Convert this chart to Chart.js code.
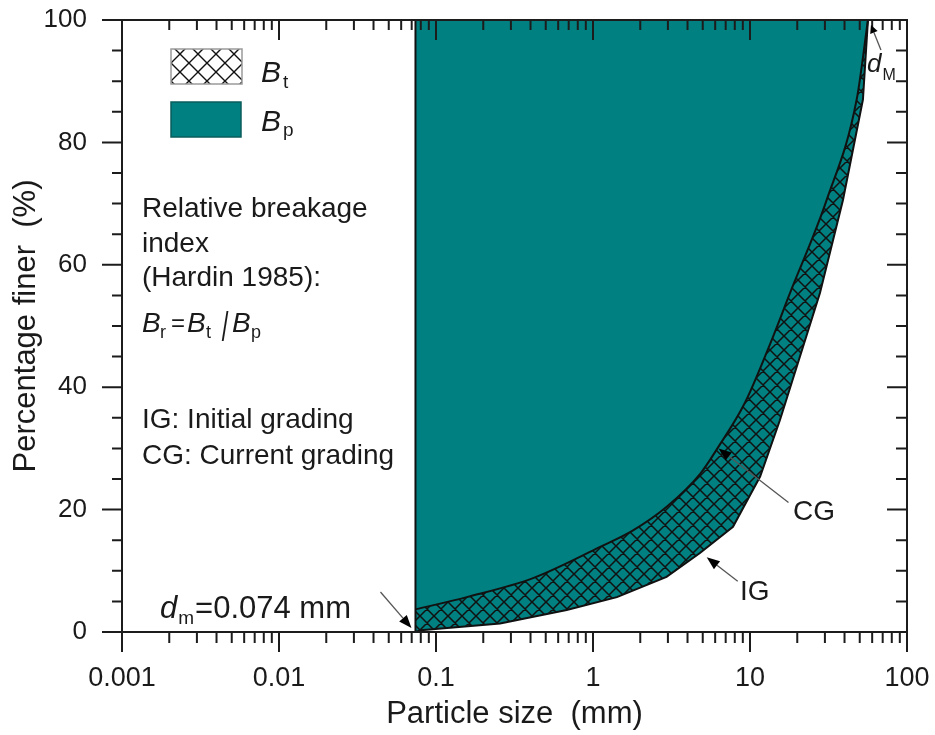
<!DOCTYPE html>
<html><head><meta charset="utf-8">
<script src="https://cdn.jsdelivr.net/npm/chart.js@4/dist/chart.umd.min.js"></script>
<style>html,body{margin:0;padding:0;background:#fff;}#wrap{width:935px;height:735px;position:relative;}</style>
</head><body><div id="wrap"><canvas id="c" width="935" height="735"></canvas></div>
<script>
// ---- data ----
const xTickValues = [0.001, 0.01, 0.1, 1, 10, 100];
const xTickLabels = ['0.001', '0.01', '0.1', '1', '10', '100'];
const xMinorMultipliers = [2, 3, 4, 5, 6, 7, 8, 9];
const yTickValues = [0, 20, 40, 60, 80, 100];
const yTickLabels = ['0', '20', '40', '60', '80', '100'];
const yMinorValues = [5, 10, 15, 25, 30, 35, 45, 50, 55, 65, 70, 75, 85, 90, 95];

// Current grading (CG)
const cgSize  = [0.074, 0.157, 0.415, 1.11, 1.80, 2.96, 4.80, 6.2, 9.3, 13.4, 18.0, 30.8, 47.8, 56.4];
const cgFiner = [3.7,   5.7,   8.8,   13.9, 16.6, 20.5, 25.8, 30.0, 37.5, 47.0, 55.4, 70.6, 87.0, 100];
// Initial grading (IG)
const igSize  = [0.074, 0.08, 0.256, 0.68, 1.42, 2.94, 4.80, 7.79, 11.6, 15.5, 27.9, 39.1, 52.4, 56.4];
const igFiner = [0,     0.3,  1.4,   3.6,  5.7,  9.0,  12.9, 17.2, 25.4, 34.6, 55.4, 70.6, 87.0, 100];
// lower limit d_m = 0.074 mm
const dmSize  = [0.074, 0.074];
const dmFiner = [0, 100];

// annotation anchors (data units) for arrows
const cgArrowAt = [6.3, 30.0];
const igArrowAt = [5.3, 12.2];

const TEAL = '#008080';
const FONT = '"Liberation Sans", Arial, Helvetica, sans-serif';
const INK = '#1a1a1a';

const canvas = document.getElementById('c');
const mainCtx = canvas.getContext('2d');
function makeHatch(period, lw, bg) {
  const t = document.createElement('canvas');
  t.width = period; t.height = period;
  const g = t.getContext('2d');
  if (bg) { g.fillStyle = bg; g.fillRect(0, 0, period, period); }
  g.strokeStyle = '#111'; g.lineWidth = lw;
  g.beginPath();
  for (const k of [-period, 0, period]) {
    g.moveTo(k, 0); g.lineTo(k + period, period);
    g.moveTo(k + period, 0); g.lineTo(k, period);
  }
  g.stroke();
  return mainCtx.createPattern(t, 'repeat');
}
const hatch = makeHatch(14, 1.5, null);
const legendHatch = makeHatch(18, 1.4, '#ffffff');

function pts(xs, ys) { return xs.map((v, i) => ({x: v, y: ys[i]})); }

function text(ctx, s, x, y, size, italic) {
  ctx.font = (italic ? 'italic ' : '') + size + 'px ' + FONT;
  ctx.fillStyle = INK;
  ctx.textAlign = 'left';
  ctx.textBaseline = 'alphabetic';
  ctx.fillText(s, x, y);
  return x + ctx.measureText(s).width;
}
function arrow(ctx, tipX, tipY, tailX, tailY, headLen, headW) {
  const dx = tipX - tailX, dy = tipY - tailY;
  const L = Math.hypot(dx, dy), ux = dx / L, uy = dy / L;
  const bx = tipX - ux * headLen, by = tipY - uy * headLen;
  ctx.strokeStyle = '#555'; ctx.lineWidth = 1.3;
  ctx.beginPath(); ctx.moveTo(tailX, tailY); ctx.lineTo(bx, by); ctx.stroke();
  ctx.fillStyle = '#000';
  ctx.beginPath();
  ctx.moveTo(tipX, tipY);
  ctx.lineTo(bx - uy * headW, by + ux * headW);
  ctx.lineTo(bx + uy * headW, by - ux * headW);
  ctx.closePath(); ctx.fill();
}

const overlay = {
  id: 'overlay',
  afterDraw(chart) {
    const {ctx, chartArea: a, scales: {x, y}} = chart;
    ctx.save();
    // frame + ticks
    ctx.strokeStyle = '#1c1c1c'; ctx.lineWidth = 2; ctx.lineCap = 'butt';
    ctx.strokeRect(a.left, a.top, a.right - a.left, a.bottom - a.top);
    ctx.beginPath();
    xTickValues.forEach((d, i) => {
      const p = x.getPixelForValue(d);
      ctx.moveTo(p, a.bottom); ctx.lineTo(p, a.bottom + 20);
      ctx.moveTo(p, a.top); ctx.lineTo(p, a.top + 20);
      if (i < xTickValues.length - 1) {
        xMinorMultipliers.forEach(m => {
          const q = x.getPixelForValue(d * m);
          ctx.moveTo(q, a.bottom); ctx.lineTo(q, a.bottom + 11);
          ctx.moveTo(q, a.top); ctx.lineTo(q, a.top + 10);
        });
      }
    });
    yTickValues.forEach(v => {
      const p = y.getPixelForValue(v);
      ctx.moveTo(a.left - 20, p); ctx.lineTo(a.left, p);
      ctx.moveTo(a.right - 20, p); ctx.lineTo(a.right, p);
    });
    yMinorValues.forEach(v => {
      const p = y.getPixelForValue(v);
      ctx.moveTo(a.left - 10, p); ctx.lineTo(a.left, p);
      ctx.moveTo(a.right - 11, p); ctx.lineTo(a.right, p);
    });
    ctx.stroke();

    // legend
    ctx.fillStyle = '#fff'; ctx.fillRect(171, 49, 71, 35);
    ctx.fillStyle = legendHatch; ctx.fillRect(171, 49, 71, 35);
    ctx.strokeStyle = '#9a9a9a'; ctx.lineWidth = 1.5; ctx.strokeRect(171, 49, 71, 35);
    ctx.fillStyle = TEAL; ctx.fillRect(171, 102, 70, 35);
    ctx.strokeStyle = '#0b5c5c'; ctx.lineWidth = 1.5; ctx.strokeRect(171, 102, 70, 35);
    text(ctx, 'B', 261, 82, 30, true); text(ctx, 't', 283, 88, 19, false);
    text(ctx, 'B', 261, 131, 30, true); text(ctx, 'p', 283, 136, 19, false);

    // annotations
    text(ctx, 'Relative breakage', 142, 217, 28, false);
    text(ctx, 'index', 142, 252, 28, false);
    text(ctx, '(Hardin 1985):', 142, 286, 28, false);
    text(ctx, 'B', 142, 332, 28, true); text(ctx, 'r', 160, 338, 18, false);
    text(ctx, '=', 171, 331, 24, false);
    text(ctx, 'B', 187, 332, 28, true); text(ctx, 't', 206, 338, 18, false);
    ctx.save(); ctx.fillStyle = INK; ctx.font = '40px ' + FONT;
    ctx.translate(225, 341); ctx.scale(0.6, 1); ctx.textAlign = 'center'; ctx.textBaseline = 'alphabetic';
    ctx.fillText('/', 0, 0); ctx.restore();
    text(ctx, 'B', 232, 332, 28, true); text(ctx, 'p', 251, 338, 18, false);
    text(ctx, 'IG: Initial grading', 142, 428, 28, false);
    text(ctx, 'CG: Current grading', 142, 464, 28, false);

    // d_m label and arrow
    let cx = text(ctx, 'd', 160, 618, 31, true);
    cx = text(ctx, 'm', cx + 1, 624, 19, false);
    text(ctx, '=0.074 mm', cx + 1, 618, 31, false);
    const dmx = x.getPixelForValue(dmSize[0]), dmy = y.getPixelForValue(dmFiner[0]);
    arrow(ctx, dmx - 4, dmy - 4, dmx - 35, dmy - 40, 13, 5);

    // d_M label and arrow
    const dMx = x.getPixelForValue(cgSize[cgSize.length - 1]), dMy = y.getPixelForValue(100);
    arrow(ctx, dMx + 3, dMy + 5, dMx + 13, dMy + 30, 8, 4);
    const ex = text(ctx, 'd', 867, 72, 26, true);
    text(ctx, 'M', ex + 1, 80, 16, false);

    // CG arrow + label
    const cgx = x.getPixelForValue(cgArrowAt[0]), cgy = y.getPixelForValue(cgArrowAt[1]);
    arrow(ctx, cgx, cgy, cgx + 70, cgy + 54, 13, 5);
    text(ctx, 'CG', 793, 520, 28, false);
    // IG arrow + label
    const igx = x.getPixelForValue(igArrowAt[0]), igy = y.getPixelForValue(igArrowAt[1]);
    arrow(ctx, igx, igy, igx + 31, igy + 24, 13, 5);
    text(ctx, 'IG', 740, 600, 28, false);
    ctx.restore();
  }
};

new Chart(canvas, {
  type: 'line',
  data: {
    datasets: [
      { label: 'dm', data: pts(dmSize, dmFiner), borderColor: '#111', borderWidth: 2, pointRadius: 0, fill: false },
      { label: 'CG', data: pts(cgSize, cgFiner), borderColor: '#111', borderWidth: 2, pointRadius: 0,
        fill: '+1', backgroundColor: hatch, cubicInterpolationMode: 'monotone' },
      { label: 'IG', data: pts(igSize, igFiner), borderColor: '#111', borderWidth: 2, pointRadius: 0,
        fill: 'end', backgroundColor: TEAL, tension: 0 }
    ]
  },
  options: {
    responsive: false, animation: false, devicePixelRatio: 1,
    layout: { padding: { left: 0, top: 20, right: 28, bottom: 0 } },
    plugins: { legend: { display: false }, tooltip: { enabled: false } },
    scales: {
      x: {
        type: 'logarithmic', min: 0.001, max: 100,
        afterBuildTicks: s => { s.ticks = xTickValues.map(v => ({value: v})); },
        afterFit: s => { s.height = 103; s.paddingLeft = 0; s.paddingRight = 0; },
        ticks: { callback: (v, i) => xTickLabels[i], font: { family: FONT, size: 27 }, color: INK, padding: 10, maxRotation: 0, autoSkip: false },
        grid: { display: true, drawOnChartArea: false, drawTicks: true, tickLength: 20, color: 'rgba(0,0,0,0)' },
        border: { display: false },
        title: { display: true, text: 'Particle size  (mm)', font: { family: FONT, size: 31 }, color: INK, padding: { top: 0, bottom: 2 } }
      },
      y: {
        type: 'linear', min: 0, max: 100,
        afterBuildTicks: s => { s.ticks = yTickValues.map(v => ({value: v})); },
        afterFit: s => { s.width = 122; s.paddingTop = 0; s.paddingBottom = 0; },
        ticks: { callback: (v, i) => yTickLabels[i], font: { family: FONT, size: 26 }, color: INK, padding: 15 },
        grid: { display: true, drawOnChartArea: false, drawTicks: true, tickLength: 20, color: 'rgba(0,0,0,0)' },
        border: { display: false },
        title: { display: true, text: 'Percentage finer  (%)', font: { family: FONT, size: 31 }, color: INK, padding: { top: 8, bottom: 0 } }
      }
    }
  },
  plugins: [overlay]
});
</script></body></html>
